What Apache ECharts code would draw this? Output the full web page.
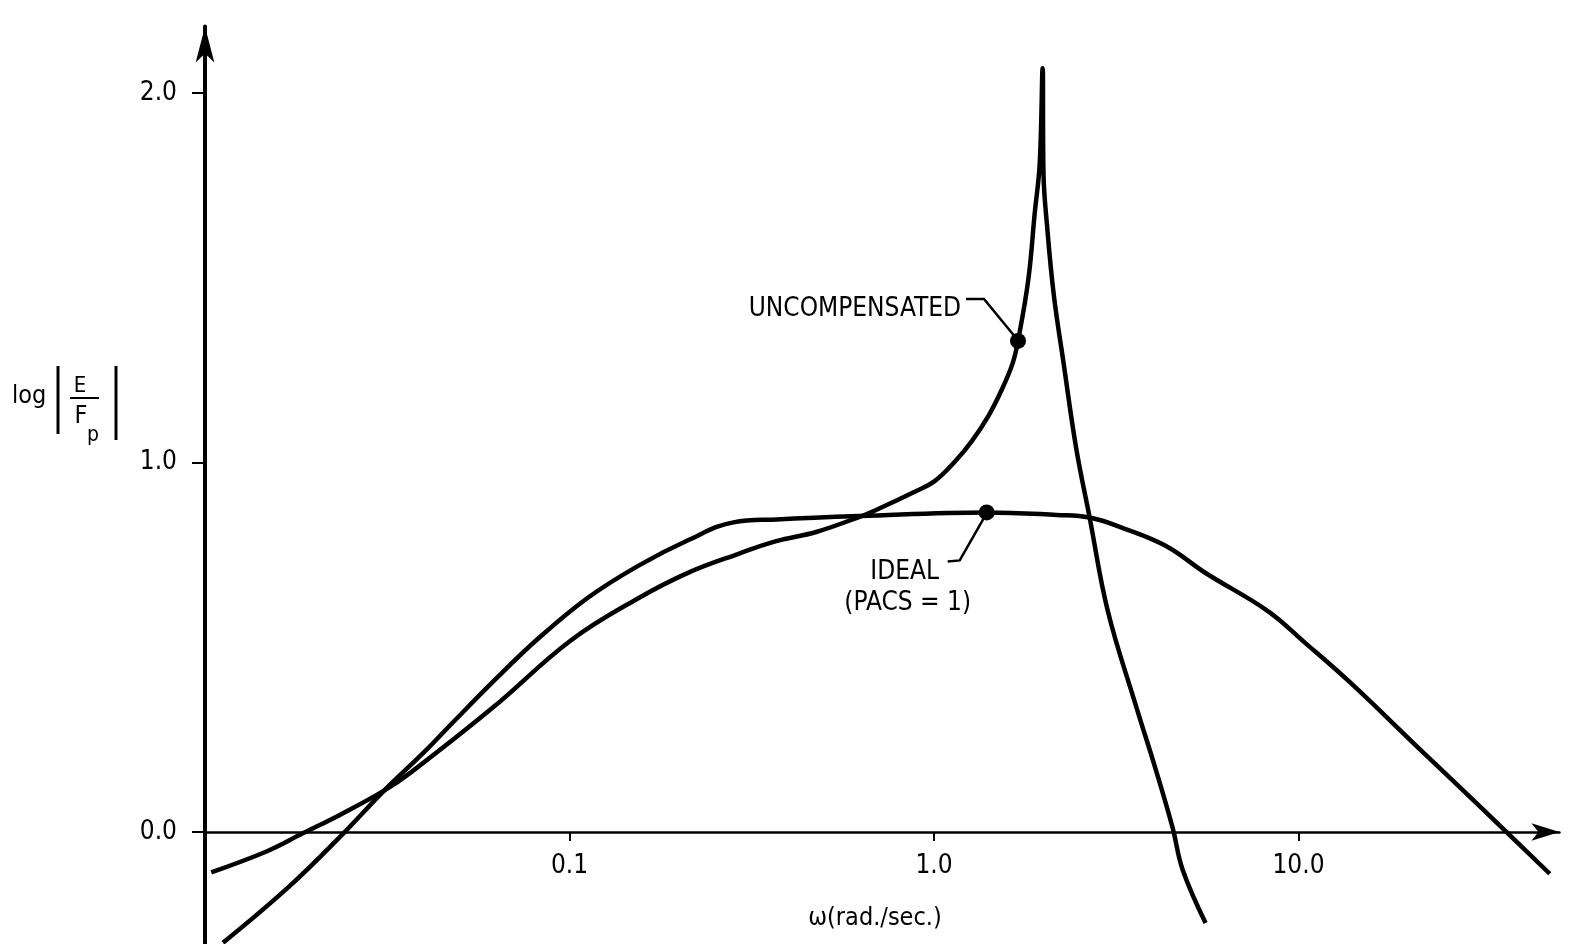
<!DOCTYPE html>
<html><head><meta charset="utf-8">
<script src="https://cdn.jsdelivr.net/npm/echarts@6/dist/echarts.min.js"></script>
<style>html,body{margin:0;padding:0;background:#fff}#c{width:1572px;height:944px}</style>
</head><body><div id="c"></div>
<script>
// ---- data ----
const xTickValues = [0.1, 1, 10];
const xTickLabels = ['0.1', '1.0', '10.0'];
const yTickValues = [0, 1, 2];
const yTickLabels = ['0.0', '1.0', '2.0'];

const uncompW = [0.0104, 0.0148, 0.0186, 0.0235, 0.031, 0.0368, 0.0615, 0.101, 0.154, 0.212, 0.291, 0.369, 0.475, 0.625, 0.710, 0.882, 1.002, 1.140, 1.264, 1.412, 1.539, 1.644, 1.70, 1.815, 1.889, 1.95, 1.986, 1.997, 2.047, 2.134, 2.269, 2.453, 2.673, 2.998, 3.58, 4.03, 4.51, 4.81, 5.56];
const uncompLog = [-0.109, -0.052, -0.003, 0.047, 0.112, 0.162, 0.336, 0.519, 0.632, 0.702, 0.753, 0.787, 0.812, 0.853, 0.876, 0.920, 0.949, 1.002, 1.055, 1.127, 1.200, 1.269, 1.329, 1.496, 1.674, 1.809, 2.067, 1.782, 1.630, 1.449, 1.267, 1.041, 0.851, 0.598, 0.342, 0.179, 0.013, -0.102, -0.246];

const idealW = [0.0112, 0.0170, 0.0239, 0.031, 0.0401, 0.0477, 0.0629, 0.0815, 0.1123, 0.1547, 0.2128, 0.2817, 0.370, 0.625, 1.395, 2.17, 2.673, 3.31, 4.33, 5.56, 8.24, 10.37, 13.88, 20.9, 31.7, 36.5, 48.9];
const idealLog = [-0.30, -0.148, -0.005, 0.112, 0.218, 0.295, 0.415, 0.521, 0.634, 0.721, 0.791, 0.838, 0.846, 0.855, 0.865, 0.858, 0.851, 0.822, 0.774, 0.701, 0.598, 0.514, 0.404, 0.236, 0.066, 0.008, -0.113];

const markerW = [1.70, 1.395];
const markerLog = [1.329, 0.865];
const uncompLabel = 'UNCOMPENSATED';
const idealLabel1 = 'IDEAL';
const idealLabel2 = '(PACS = 1)';
const xName = 'ω(rad./sec.)';

// ---- layout ----
const X_MIN = 0.01, X_MAX = 52, Y_MIN = -0.3, Y_MAX = 2.18;
const LEFT = 205, ZERO_Y = 832, DECADE = 364.5, UNIT = 369.5;
const gridWidth = DECADE * (Math.log10(X_MAX) - Math.log10(X_MIN));
const gridTop = ZERO_Y - Y_MAX * UNIT;
const gridHeight = (Y_MAX - Y_MIN) * UNIT;
const xAxisOffset = Y_MIN * UNIT; // negative: lift the bottom axis up to the zero line

const tickFont = '"DejaVu Sans Condensed", "DejaVu Sans", sans-serif';
const noteFont = '"DejaVu Sans Condensed", "DejaVu Sans", sans-serif';

const pairs = (xs, ys) => xs.map((x, i) => [x, ys[i]]);

const chart = echarts.init(document.getElementById('c'), null, {renderer: 'canvas'});
const option = {
  animation: false,
  backgroundColor: '#fff',
  grid: {left: LEFT, top: gridTop, width: gridWidth, height: gridHeight, containLabel: false, outerBoundsMode: 'none'},
  xAxis: {
    type: 'log', logBase: 10, min: X_MIN, max: X_MAX, position: 'bottom', offset: xAxisOffset,
    axisLine: {show: true, onZero: false, symbol: ['none', 'arrow'], symbolSize: [13, 28],
      lineStyle: {color: '#000', width: 2.5}},
    axisTick: {show: true, length: 9, customValues: xTickValues, lineStyle: {color: '#000', width: 2}},
    axisLabel: {show: true, customValues: xTickValues, margin: 21, color: '#000',
      fontFamily: tickFont, fontSize: 26, hideOverlap: false,
      formatter: v => { const i = xTickValues.findIndex(t => Math.abs(t - v) < 1e-9); return i >= 0 ? xTickLabels[i] : ''; }},
    splitLine: {show: false}, minorTick: {show: false}
  },
  yAxis: {
    type: 'value', min: Y_MIN, max: Y_MAX,
    axisLine: {show: true, symbol: ['none', 'arrow'], symbolSize: [14, 36],
      lineStyle: {color: '#000', width: 4}},
    axisTick: {show: true, length: 13, customValues: yTickValues, lineStyle: {color: '#000', width: 2}},
    axisLabel: {show: true, customValues: yTickValues, margin: 28, color: '#000',
      fontFamily: tickFont, fontSize: 26,
      formatter: v => { const i = yTickValues.findIndex(t => Math.abs(t - v) < 1e-9); return i >= 0 ? yTickLabels[i] : ''; }},
    splitLine: {show: false}
  },
  series: [
    {name: 'IDEAL', type: 'line', data: pairs(idealW, idealLog), smooth: 0.4, showSymbol: false,
      lineStyle: {color: '#000', width: 4.5, join: 'round'}, z: 3},
    {name: 'UNCOMPENSATED', type: 'line', data: pairs(uncompW, uncompLog), smooth: 0.4, showSymbol: false,
      lineStyle: {color: '#000', width: 4.5, join: 'round'}, z: 3},
    {name: 'markers', type: 'scatter', data: pairs(markerW, markerLog), symbolSize: 16,
      itemStyle: {color: '#000', opacity: 1}, z: 4}
  ]
};
chart.setOption(option);

const pU = chart.convertToPixel({gridIndex: 0}, [markerW[0], markerLog[0]]);
const pI = chart.convertToPixel({gridIndex: 0}, [markerW[1], markerLog[1]]);
const line = (pts, w) => ({type: 'polyline', shape: {points: pts}, style: {stroke: '#000', lineWidth: w, fill: null}, silent: true});
const txt = (t, x, y, font, align) => ({type: 'text', x: x, y: y, style: {text: t, font: font, fill: '#000', align: align || 'left', verticalAlign: 'middle'}, silent: true});

chart.setOption({
  graphic: [
    // UNCOMPENSATED leader + label
    line([[pU[0] - 2, pU[1] - 3], [pU[0] - 34, pU[1] - 42], [pU[0] - 52, pU[1] - 42]], 2.5),
    txt(uncompLabel, pU[0] - 57, pU[1] - 32, '26px ' + noteFont, 'right'),
    // IDEAL leader + label
    line([[pI[0] - 3, pI[1] + 6], [pI[0] - 27, pI[1] + 48], [pI[0] - 39, pI[1] + 49]], 2.5),
    txt(idealLabel1, pI[0] - 82, pI[1] + 60, '26px ' + noteFont, 'center'),
    txt(idealLabel2, pI[0] - 79, pI[1] + 91, '26px ' + noteFont, 'center'),
    // x-axis name
    txt(xName, 875, 918, '25px ' + tickFont, 'center'),
    // y-axis name: log |E / Fp|
    txt('log', 12, 396, '25px ' + tickFont, 'left'),
    line([[58, 366], [58, 434]], 3),
    txt('E', 80, 386, '22px ' + tickFont, 'center'),
    line([[70, 398], [99, 398]], 2),
    txt('F', 81, 416, '25px ' + tickFont, 'center'),
    txt('p', 93, 436, '21px ' + tickFont, 'center'),
    line([[116, 366], [116, 440]], 3)
  ]
});
</script>
</body></html>
